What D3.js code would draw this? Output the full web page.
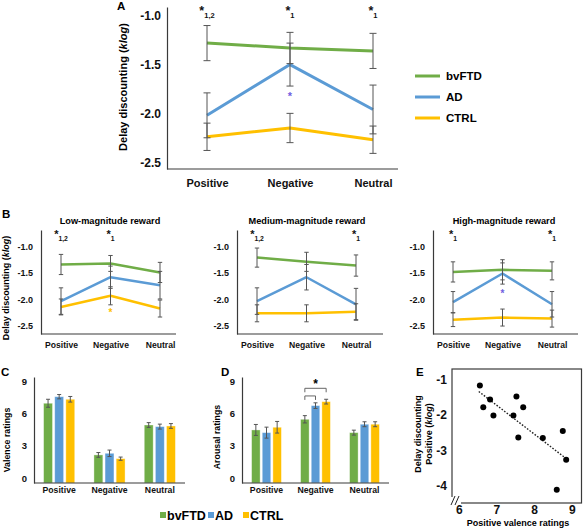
<!DOCTYPE html>
<html><head><meta charset="utf-8">
<script src="https://cdn.jsdelivr.net/npm/d3@7"></script>
<style>
body{margin:0;background:#fff;}
svg{display:block;}
</style></head><body>
<svg id="chart" width="583" height="528"></svg>
<script>
const groups = ["bvFTD","AD","CTRL"];
const groupColors = ["#70ad47","#5b9bd5","#ffc000"];
const conditions = ["Positive","Negative","Neutral"];

// Panel A
const aMeans = [[-1.28,-1.33,-1.36],[-2.02,-1.50,-1.96],[-2.24,-2.15,-2.27]];
const aErrors = [[0.18,0.16,0.18],[0.23,0.22,0.25],[0.14,0.15,0.14]];
const aTicks = [-1.0,-1.5,-2.0,-2.5];
const aStars = [["Positive","1,2"],["Negative","1"],["Neutral","1"]];
const aStarLevel = -0.99;
const aGroupStars = [["Negative",-1.80,"#7060e0"]];

// Panel B
const bTitles = ["Low-magnitude reward","Medium-magnitude reward","High-magnitude reward"];
const bLowMeans = [[-1.34,-1.32,-1.49],[-2.03,-1.58,-1.73],[-2.14,-1.93,-2.17]];
const bLowErrors = [[0.19,0.15,0.19],[0.25,0.21,0.26],[0.15,0.17,0.16]];
const bMedMeans = [[-1.21,-1.29,-1.36],[-2.03,-1.58,-2.09],[-2.26,-2.26,-2.23]];
const bMedErrors = [[0.18,0.18,0.20],[0.25,0.24,0.30],[0.16,0.16,0.15]];
const bHighMeans = [[-1.48,-1.44,-1.46],[-2.05,-1.51,-2.09],[-2.38,-2.34,-2.36]];
const bHighErrors = [[0.19,0.19,0.17],[0.20,0.20,0.24],[0.13,0.16,0.16]];
const bTicks = [-1.0,-1.5,-2.0,-2.5];
const bStars = [[["Positive","1,2"],["Negative","1"]],[["Positive","1,2"],["Neutral","1"]],[["Positive","1"],["Neutral","1"]]];
const bStarLevel = -0.85;
const bGroupStars = [[["Negative",-2.20,"#ffc000"]],[],[["Negative",-1.85,"#7060e0"]]];

// Panel C (valence) and D (arousal)
const cMeans = [[6.96,2.16,4.94],[7.57,2.31,4.79],[7.33,1.81,4.85]];
const cErrors = [[0.37,0.22,0.22],[0.20,0.30,0.23],[0.26,0.15,0.22]];
const dMeans = [[4.48,5.47,4.23],[4.23,6.74,5.01],[4.73,7.11,5.01]];
const dErrors = [[0.51,0.34,0.23],[0.51,0.26,0.23],[0.54,0.22,0.23]];
const ratingTicks = [0,3,6,9];
const dBrackets = [["Negative","bvFTD","CTRL",8.35],["Negative","bvFTD","AD",7.64]];
const dStar = ["Negative","AD",8.97];

// Panel E
const eValence = [6.56,6.65,6.83,6.92,7.45,7.53,7.71,7.58,8.23,8.76,8.85,8.60];
const eDiscount = [-1.16,-1.78,-1.56,-2.01,-2.01,-1.47,-1.78,-2.64,-2.65,-2.45,-3.27,-4.12];
const eTrendX = [6.53,8.83];
const eTrendY = [-1.33,-3.22];
const eXTicks = [6,7,8,9];
const eYTicks = [-1,-2,-3,-4];

const FONT = '"Liberation Sans", Arial, Helvetica, sans-serif';
const AXIS = "#3a3a3a";
const ERR = "#555";
const svg = d3.select("#chart").attr("font-family", FONT).attr("font-weight","bold");

function styleAxis(g, size){
  g.attr("font-family", FONT).attr("font-size", size).attr("font-weight","bold").attr("color","#111");
  g.select(".domain").attr("stroke", AXIS).attr("stroke-width",1.2);
}

function starText(g, x, y, sub, big, small, subDy){
  const t = g.append("text").attr("x", x).attr("y", y).attr("text-anchor","middle").attr("fill","#111");
  t.append("tspan").attr("font-size", big).text("*");
  t.append("tspan").attr("font-size", small).attr("dy", subDy).text(sub);
}

function linePanel(c){
  const y = d3.scaleLinear().domain(c.domain).range([c.bottom, c.top]);
  const x = d3.scalePoint().domain(conditions).range(c.xr);
  const g = svg.append("g");
  const ya = g.append("g").attr("transform",`translate(${c.axisX},0)`)
    .call(d3.axisLeft(y).tickValues(c.ticks).tickSize(0).tickPadding(c.tickPad).tickFormat(d=>d.toFixed(1)));
  styleAxis(ya, c.tickFont);
  g.append("line").attr("x1",c.axisX).attr("x2",c.axisEnd).attr("y1",c.bottom).attr("y2",c.bottom)
    .attr("stroke",AXIS).attr("stroke-width",1.2);
  const xa = g.append("g").attr("transform",`translate(0,${c.bottom})`)
    .call(d3.axisBottom(x).tickSize(0).tickPadding(c.xPad));
  styleAxis(xa, c.labelFont);
  xa.select(".domain").remove();
  const line = d3.line().x((d,j)=>x(conditions[j])).y(d=>y(d));
  c.means.forEach((m,i)=>{
    g.append("path").datum(m).attr("d", line).attr("fill","none")
      .attr("stroke", groupColors[i]).attr("stroke-width", c.lw).attr("stroke-linejoin","round");
  });
  c.means.forEach((m,i)=>{
    m.forEach((v,j)=>{
      const e = c.errs[i][j], cx = x(conditions[j]);
      g.append("line").attr("x1",cx).attr("x2",cx).attr("y1",y(v-e)).attr("y2",y(v+e)).attr("stroke",ERR).attr("stroke-width",1);
      [v-e, v+e].forEach(w=>g.append("line").attr("x1",cx-c.cap).attr("x2",cx+c.cap).attr("y1",y(w)).attr("y2",y(w)).attr("stroke",ERR).attr("stroke-width",1));
    });
  });
  c.stars.forEach(s=>starText(g, x(s[0]), y(c.starLevel), s[1], c.starBig, c.starSmall, c.subDy));
  c.groupStars.forEach(s=>g.append("text").attr("x", x(s[0])).attr("y", y(s[1])).attr("dy","0.57em")
    .attr("text-anchor","middle").attr("font-size", c.gStarFont).attr("fill", s[2]).text("*"));
  return {x, y, g};
}

// ---------- Panel A ----------
linePanel({domain:[-2.57,-0.91], top:7, bottom:169, xr:[207,373], axisX:167, axisEnd:398,
  ticks:aTicks, tickPad:6, tickFont:12, labelFont:11, xPad:10, lw:3, cap:3.5,
  means:aMeans, errs:aErrors, stars:aStars, starLevel:aStarLevel, starBig:12.5, starSmall:7.5, subDy:3,
  groupStars:aGroupStars, gStarFont:11});
svg.append("text").attr("x",117).attr("y",10).attr("font-size",11.5).text("A");
{
  const t = svg.append("text").attr("transform","translate(127,87) rotate(-90)").attr("text-anchor","middle").attr("font-size",11);
  t.append("tspan").text("Delay discounting (");
  t.append("tspan").attr("font-style","italic").text("klog");
  t.append("tspan").text(")");
}
// legend A
const legA = d3.scalePoint().domain(groups).range([76,118]);
groups.forEach((gname,i)=>{
  svg.append("line").attr("x1",415).attr("x2",440).attr("y1",legA(gname)).attr("y2",legA(gname))
    .attr("stroke",groupColors[i]).attr("stroke-width",3);
  svg.append("text").attr("x",446).attr("y",legA(gname)).attr("dy","0.36em").attr("font-size",11.5).text(gname);
});

// ---------- Panel B ----------
const bAxisX = [41,237,433];
const bAxisEnd = [176,383,578];
const bTitleX = [110,307,504];
const bMeansAll = [bLowMeans,bMedMeans,bHighMeans];
const bErrAll = [bLowErrors,bMedErrors,bHighErrors];
bAxisX.forEach((ax,k)=>{
  linePanel({domain:[-2.65,-0.69], top:230, bottom:334, xr:[ax+20, ax+119], axisX:ax, axisEnd:bAxisEnd[k],
    ticks:bTicks, tickPad:8, tickFont:9, labelFont:8.6, xPad:8, lw:2.5, cap:2.2,
    means:bMeansAll[k], errs:bErrAll[k], stars:bStars[k], starLevel:bStarLevel, starBig:11, starSmall:6.8, subDy:2.5,
    groupStars:bGroupStars[k], gStarFont:10});
  svg.append("text").attr("x",bTitleX[k]).attr("y",224).attr("text-anchor","middle").attr("font-size",9.2).text(bTitles[k]);
});
svg.append("text").attr("x",2).attr("y",218).attr("font-size",11.5).text("B");
{
  const t = svg.append("text").attr("transform","translate(9,288) rotate(-90)").attr("text-anchor","middle").attr("font-size",9);
  t.append("tspan").text("Delay discounting (");
  t.append("tspan").attr("font-style","italic").text("klog");
  t.append("tspan").text(")");
}

// ---------- Panels C and D ----------
function barPanel(c){
  const y = d3.scaleLinear().domain([-0.45,9.4]).range([483,377]);
  const x = d3.scaleBand().domain(conditions).range([c.axisX, c.axisEnd]);
  const xi = d3.scaleBand().domain(groups).range([9.6, x.bandwidth()-9.6]).paddingInner(0.2);
  const g = svg.append("g");
  const ya = g.append("g").attr("transform",`translate(${c.axisX},0)`)
    .call(d3.axisLeft(y).tickValues(ratingTicks).tickSize(0).tickPadding(7));
  styleAxis(ya, 9.5);
  c.means.forEach((m,i)=>{
    m.forEach((v,j)=>{
      const bx = x(conditions[j]) + xi(groups[i]);
      g.append("rect").attr("x",bx).attr("y",y(v)).attr("width",xi.bandwidth()).attr("height",y.range()[0]-y(v))
        .attr("fill",groupColors[i]).attr("stroke","#ffffff").attr("stroke-opacity",0.45).attr("stroke-width",0.8);
    });
  });
  c.means.forEach((m,i)=>{
    m.forEach((v,j)=>{
      const e = c.errs[i][j];
      const cx = x(conditions[j]) + xi(groups[i]) + xi.bandwidth()/2;
      g.append("line").attr("x1",cx).attr("x2",cx).attr("y1",y(v-e)).attr("y2",y(v+e)).attr("stroke",ERR).attr("stroke-width",1);
      [v-e,v+e].forEach(w=>g.append("line").attr("x1",cx-2).attr("x2",cx+2).attr("y1",y(w)).attr("y2",y(w)).attr("stroke",ERR).attr("stroke-width",1));
    });
  });
  const xa = g.append("g").attr("transform",`translate(0,${y.range()[0]})`)
    .call(d3.axisBottom(x).tickSize(0).tickPadding(4));
  styleAxis(xa, 8.7);
  xa.select(".domain").attr("d",`M${c.axisX},0H${c.axisEnd}`);
  return {x, xi, y, g};
}
const C = barPanel({axisX:34, axisEnd:185, means:cMeans, errs:cErrors});
svg.append("text").attr("x",1).attr("y",376).attr("font-size",11.5).text("C");
svg.append("text").attr("transform","translate(10,440) rotate(-90)").attr("text-anchor","middle").attr("font-size",8.8).text("Valence ratings");

const D = barPanel({axisX:242, axisEnd:389, means:dMeans, errs:dErrors});
svg.append("text").attr("x",221).attr("y",376).attr("font-size",11.5).text("D");
svg.append("text").attr("transform","translate(220,437) rotate(-90)").attr("text-anchor","middle").attr("font-size",8.8).text("Arousal ratings");
// significance brackets
dBrackets.forEach(b=>{
  const cx = gname => D.x(b[0]) + D.xi(gname) + D.xi.bandwidth()/2;
  const x1 = cx(b[1]), x2 = cx(b[2]), yy = D.y(b[3]), yl = D.y(b[3]-0.37);
  svg.append("path").attr("d",`M${x1},${yl}V${yy}H${x2}V${yl}`).attr("fill","none").attr("stroke","#666").attr("stroke-width",1);
});
svg.append("text").attr("x", D.x(dStar[0]) + D.xi(dStar[1]) + D.xi.bandwidth()/2).attr("y", D.y(dStar[2])).attr("dy","0.57em")
  .attr("text-anchor","middle").attr("font-size",12).text("*");

// bottom legend
const legB = d3.scaleOrdinal().domain(groups).range([160,208,243]);
groups.forEach((gname,i)=>{
  svg.append("rect").attr("x",legB(gname)).attr("y",512).attr("width",6).attr("height",6).attr("fill",groupColors[i]);
  svg.append("text").attr("x",legB(gname)+7).attr("y",515).attr("dy","0.36em").attr("font-size",12.5).text(gname);
});

// ---------- Panel E ----------
{
  const x = d3.scaleLinear().domain([5.82,9.27]).range([452,582]);
  const y = d3.scaleLinear().domain([-4.5,-0.69]).range([503,369]);
  const g = svg.append("g");
  g.append("rect").attr("x",452).attr("y",369).attr("width",129.5).attr("height",134).attr("fill","none").attr("stroke",AXIS).attr("stroke-width",1.2);
  const xa = g.append("g").attr("transform","translate(0,503)").call(d3.axisBottom(x).tickValues(eXTicks).tickSize(0).tickPadding(2).tickFormat(d=>String(d)));
  styleAxis(xa, 12); xa.select(".domain").remove();
  const ya = g.append("g").attr("transform","translate(452,0)").call(d3.axisLeft(y).tickValues(eYTicks).tickSize(0).tickPadding(5).tickFormat(d=>"-"+Math.abs(d)));
  styleAxis(ya, 12); ya.select(".domain").remove();
  // axis break
  g.append("rect").attr("x",451).attr("y",497).attr("width",10).attr("height",8).attr("fill","#fff");
  [0,4].forEach(o=>g.append("line").attr("x1",451+o).attr("y1",505).attr("x2",455+o).attr("y2",496).attr("stroke","#222").attr("stroke-width",1));
  g.append("line").attr("x1",x(eTrendX[0])).attr("y1",y(eTrendY[0])).attr("x2",x(eTrendX[1])).attr("y2",y(eTrendY[1]))
    .attr("stroke","#222").attr("stroke-width",1.4).attr("stroke-dasharray","1.6,1.6");
  eValence.forEach((v,i)=>g.append("circle").attr("cx",x(v)).attr("cy",y(eDiscount[i])).attr("r",3).attr("fill","#000"));
  svg.append("text").attr("x",416).attr("y",376).attr("font-size",11.5).text("E");
  const t = svg.append("text").attr("transform","translate(418,434) rotate(-90)").attr("text-anchor","middle").attr("font-size",9);
  t.append("tspan").attr("x",0).attr("dy","0.35em").text("Delay discounting");
  const t2 = svg.append("text").attr("transform","translate(429,434) rotate(-90)").attr("text-anchor","middle").attr("font-size",9);
  t2.append("tspan").attr("dy","0.35em").text("Positive (");
  t2.append("tspan").attr("font-style","italic").text("klog");
  t2.append("tspan").text(")");
  svg.append("text").attr("x",518).attr("y",526).attr("text-anchor","middle").attr("font-size",9).text("Positive valence ratings");
}
</script>
</body></html>
